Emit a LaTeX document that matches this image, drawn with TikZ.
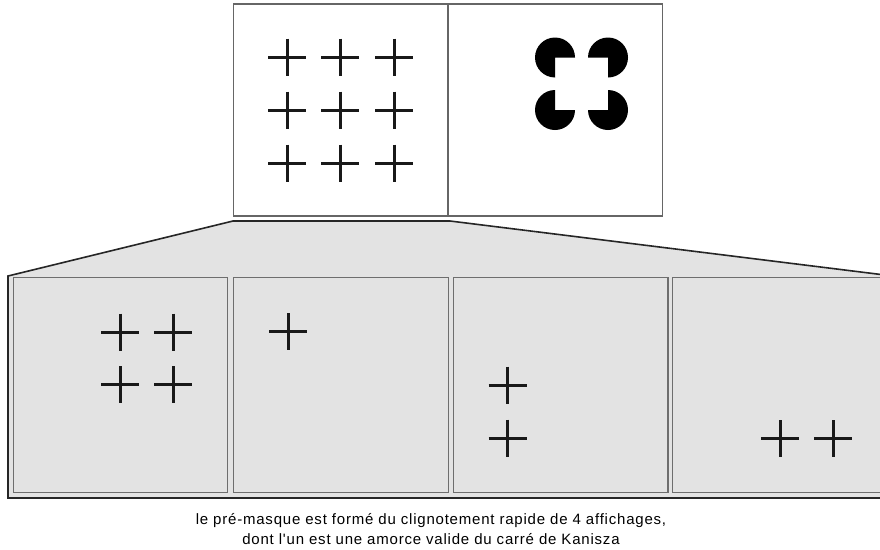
\documentclass[tikz,border=0pt]{standalone}
\usepackage{fontspec}
\setmainfont{Liberation Sans}
\newfontfamily\capfont[LetterSpace=5.3]{Liberation Sans}
\begin{document}
\begin{tikzpicture}[x=1pt,y=1pt,
  topbox/.style={draw=black!60,line width=1.3pt,fill=white,minimum width=214pt,minimum height=212pt,inner sep=0pt,outer sep=0pt},
  panel/.style={draw=black!57,line width=1.3pt,fill=none,minimum width=214.5pt,minimum height=214.5pt,inner sep=0pt,outer sep=0pt},
  crossline/.style={line width=3pt,black!90},
  pac/.style={fill=black,draw=none},
  caption/.style={font=\capfont\fontsize{15}{17}\selectfont,inner sep=0pt,anchor=base}]
\useasboundingbox (0,0) rectangle (880,-549);
\clip (0,0) rectangle (880,-549);
\newcommand{\crs}[2]{\draw[crossline] (#1-19,-#2) -- (#1+19,-#2) (#1,-#2+18.5) -- (#1,-#2-18.5);}
% gray zoom region
\draw[fill=black!11,line width=1.6pt,draw=black!85] (233,-221) -- (450,-221) -- (893,-276) -- (893,-498) -- (8,-498) -- (8,-276) -- cycle;
% top boxes
\node[topbox] (tl) at (340.5,-110) {};
\node[topbox] (tr) at (555.5,-110) {};
% panels
\node[panel] (p1) at (120.5,-385) {};
\node[panel] (p2) at (341,-385) {};
\node[panel] (p3) at (560.75,-385) {};
\node[panel] (p4) at (780,-385) {};
% crosses in top-left box
\foreach \xx in {287,340,394}{\foreach \yy in {57,110,163}{\crs{\xx}{\yy}}}
% Kanizsa inducers
\fill[pac] (555,-57.5) -- ++(0:20) arc (0:270:20) -- cycle;
\fill[pac] (608,-57.5) -- ++(270:20) arc (270:540:20) -- cycle;
\fill[pac] (555,-110) -- ++(90:20) arc (90:360:20) -- cycle;
\fill[pac] (608,-110) -- ++(180:20) arc (180:450:20) -- cycle;
% panel crosses
\crs{120}{332}\crs{173}{332}\crs{120}{384.5}\crs{173}{384.5}
\crs{288}{331.5}
\crs{507.5}{385}\crs{507.5}{438}
\crs{780}{438.5}\crs{833}{438.5}
% caption
\node[caption] (cap1) at (431,-524) {le pré-masque est formé du clignotement rapide de 4 affichages,};
\node[caption] (cap2) at (431,-544) {dont l'un est une amorce valide du carré de Kanisza};
\end{tikzpicture}
\end{document}
